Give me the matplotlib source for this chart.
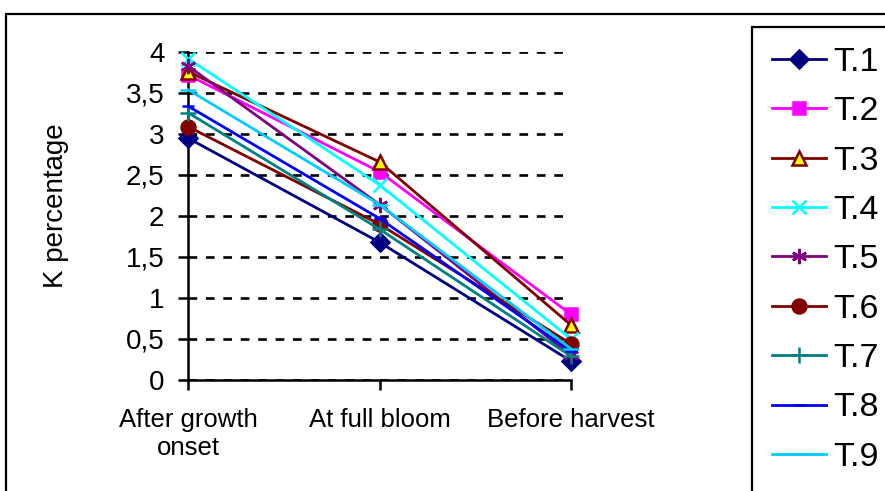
import matplotlib
matplotlib.use('Agg')
import matplotlib.pyplot as plt
from matplotlib.patches import Rectangle
from matplotlib.ticker import FuncFormatter

plt.rcParams['font.family'] = ['Liberation Sans', 'DejaVu Sans']

# K percentage per treatment at three growth stages
stages = ['After growth\nonset', 'At full bloom', 'Before harvest']
names = ['T.1', 'T.2', 'T.3', 'T.4', 'T.5', 'T.6', 'T.7', 'T.8', 'T.9']
t1 = [2.95, 1.68, 0.23]
t2 = [3.72, 2.54, 0.80]
t3 = [3.76, 2.66, 0.67]
t4 = [3.92, 2.38, 0.50]
t5 = [3.83, 2.14, 0.30]
t6 = [3.09, 1.90, 0.44]
t7 = [3.26, 1.84, 0.29]
t8 = [3.34, 1.97, 0.35]
t9 = [3.54, 2.14, 0.38]
series = [t1, t2, t3, t4, t5, t6, t7, t8, t9]

# colour, marker, marker size, marker face
styles = [
    ('#000080', 'D', 9, '#000080'),
    ('#FF00FF', 's', 9, '#FF00FF'),
    ('#800000', '^', 10, '#FFFF00'),
    ('#00FFFF', 'x', 10, '#00FFFF'),
    ('#800080', (6, 2, 0), 11, '#800080'),
    ('#800000', 'o', 10, '#800000'),
    ('#008080', '+', 11, '#008080'),
    ('#0000FF', '_', 9, '#0000FF'),
    ('#00CCFF', '_', 12, '#00CCFF'),
]

fig = plt.figure(figsize=(8.85, 4.91), dpi=100)
ax = fig.add_axes([188/885, 1-380/491, (571-188)/885, (380-52)/491])

x = list(range(len(stages)))
handles = []
for vals, name, (c, m, ms, fc) in zip(series, names, styles):
    h, = ax.plot(x, vals, color=c, lw=2, marker=m, markersize=ms,
                 markerfacecolor=fc, markeredgecolor=c, markeredgewidth=1.8,
                 label=name, clip_on=False, zorder=3)
    handles.append(h)

ax.set_xlim(0, 2)
ax.set_ylim(0, 4)
ax.set_xticks(x)
ax.set_xticklabels(stages, fontsize=18.5, linespacing=1.2)
ax.set_yticks([0, 0.5, 1, 1.5, 2, 2.5, 3, 3.5, 4])
ax.yaxis.set_major_formatter(FuncFormatter(lambda v, p: ('%g' % v).replace('.', ',')))
ax.tick_params(axis='y', labelsize=20, length=7, width=1.8, direction='out', pad=10)
ax.tick_params(axis='x', length=7, width=1.8, direction='out', pad=13)

for s in ['top', 'right']:
    ax.spines[s].set_visible(False)
for s in ['left', 'bottom']:
    ax.spines[s].set_linewidth(1.8)

ax.yaxis.grid(True, color='black', lw=1.9, linestyle=(0, (3.3, 3.3)))
ax.set_axisbelow(True)

ax.set_ylabel('K percentage', fontsize=20)
ax.yaxis.set_label_coords(-0.31, 0.53)

# outer chart border and legend box, both running past the figure edge
fig.patches.append(Rectangle((6/885, -0.1), 1.0, 1-14/491+0.1, transform=fig.transFigure,
                             fill=False, ec='black', lw=1.6))
fig.patches.append(Rectangle((752/885, -0.1), 0.5, 1-27/491+0.1, transform=fig.transFigure,
                             fill=False, ec='black', lw=1.6))

leg = fig.legend(handles=handles, loc='upper left', bbox_to_anchor=(748/885, 1-23/491),
                 frameon=False, fontsize=24.5, handlelength=1.58, handletextpad=0.22,
                 labelspacing=0.54, borderpad=0.2)

fig.savefig('out.png', dpi=100)
